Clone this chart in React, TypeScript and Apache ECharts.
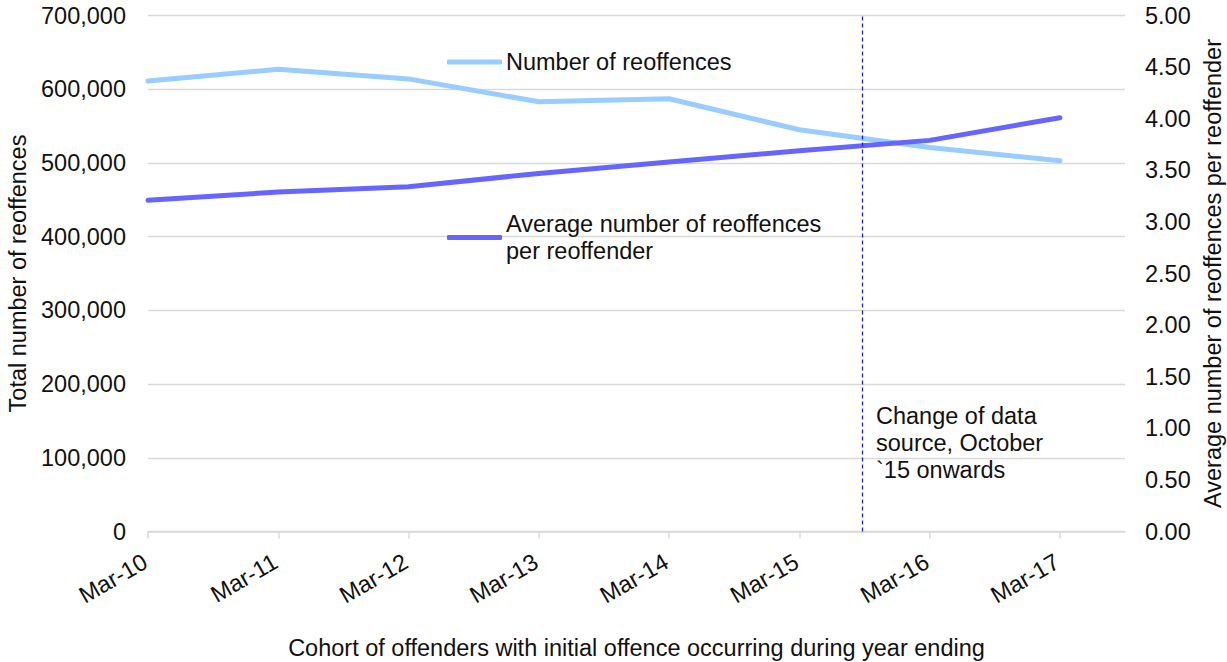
import React, { useEffect, useRef } from "react";
import * as echarts from "echarts";

// Cohort year-ending labels
const categories = ["Mar-10", "Mar-11", "Mar-12", "Mar-13", "Mar-14", "Mar-15", "Mar-16", "Mar-17"];

// Total number of reoffences (left axis)
const reoffences = [611000, 627000, 614000, 583000, 587000, 545000, 521000, 503000];

// Average number of reoffences per reoffender (right axis)
const avgPerReoffender = [3.21, 3.29, 3.34, 3.47, 3.58, 3.69, 3.79, 4.01];

// Position of the data-source change on the cohort axis (Oct '15)
const sourceChangeAt = 5.48;

const FONT = "'Liberation Sans', Arial, sans-serif";
const TEXT = "#111111";
const FS = 23.5;

export default function App() {
  const ref = useRef<HTMLDivElement>(null);

  useEffect(() => {
    if (!ref.current) return;
    const chart = echarts.init(ref.current, undefined, { renderer: "svg" });
    const idx = categories.map((_, i) => i);

    chart.setOption({
      animation: false,
      backgroundColor: "#ffffff",
      textStyle: { fontFamily: FONT, color: TEXT },
      grid: {
        left: 148,
        right: 102,
        top: 15.5,
        bottom: 130.5,
        containLabel: false,
        outerBoundsMode: "none",
      },
      legend: [
        {
          left: 447,
          top: 50,
          padding: 0,
          orient: "vertical",
          itemWidth: 55,
          itemHeight: 5,
          selectedMode: false,
          icon: "roundRect",
          data: ["Number of reoffences"],
          textStyle: { fontFamily: FONT, fontSize: FS, color: TEXT, padding: [0, 0, 0, -1] },
        },
        {
          left: 447,
          top: 197,
          padding: 0,
          orient: "vertical",
          itemWidth: 55,
          itemHeight: 5,
          selectedMode: false,
          icon: "roundRect",
          data: ["Average number of reoffences per reoffender"],
          formatter: () => "Average number of reoffences\nper reoffender",
          textStyle: {
            fontFamily: FONT,
            fontSize: FS,
            lineHeight: 27,
            color: TEXT,
            padding: [27, 0, 0, -1],
          },
        },
      ],
      xAxis: {
        type: "value",
        min: 0,
        max: 7.5,
        interval: 1,
        name: "Cohort of offenders with initial offence occurring during year ending",
        nameLocation: "middle",
        nameGap: 104.5,
        nameMoveOverlap: false,
        nameTextStyle: { fontFamily: FONT, fontSize: FS, color: TEXT },
        axisLine: { show: true, lineStyle: { color: "#d9d9d9", width: 1.5 } },
        axisTick: {
          show: true,
          length: 7,
          customValues: idx,
          lineStyle: { color: "#d9d9d9", width: 1.5 },
        },
        splitLine: { show: false },
        axisLabel: {
          customValues: idx,
          rotate: 30,
          align: "right",
          verticalAlign: "top",
          margin: 13,
          padding: [0, 10, 0, 0],
          fontFamily: FONT,
          fontSize: FS,
          color: TEXT,
          formatter: (v: number) => categories[Math.round(v)] ?? "",
        },
      },
      yAxis: [
        {
          type: "value",
          min: 0,
          max: 700000,
          interval: 100000,
          name: "Total number of reoffences",
          nameLocation: "middle",
          nameGap: 118,
          nameRotate: 90,
          nameMoveOverlap: false,
          nameTextStyle: { fontFamily: FONT, fontSize: FS, color: TEXT },
          axisLine: { show: false },
          axisTick: { show: false },
          splitLine: { show: true, lineStyle: { color: "#d9d9d9", width: 1.3 } },
          axisLabel: {
            margin: 22,
            fontFamily: FONT,
            fontSize: FS,
            color: TEXT,
            formatter: (v: number) => v.toLocaleString("en-GB"),
          },
        },
        {
          type: "value",
          min: 0,
          max: 5,
          interval: 0.5,
          position: "right",
          name: "Average number of reoffences per reoffender",
          nameLocation: "middle",
          nameGap: 76,
          nameRotate: 90,
          nameMoveOverlap: false,
          nameTextStyle: { fontFamily: FONT, fontSize: FS, color: TEXT },
          axisLine: { show: false },
          axisTick: { show: false },
          splitLine: { show: false },
          axisLabel: {
            margin: 20,
            fontFamily: FONT,
            fontSize: FS,
            color: TEXT,
            formatter: (v: number) => v.toFixed(2),
          },
        },
      ],
      series: [
        {
          name: "Number of reoffences",
          type: "line",
          yAxisIndex: 0,
          symbol: "none",
          data: reoffences.map((v, i) => [i, v]),
          lineStyle: { color: "#99ccff", width: 5, cap: "round", join: "round" },
          itemStyle: { color: "#99ccff" },
          z: 3,
          markLine: {
            silent: true,
            symbol: "none",
            label: { show: false },
            lineStyle: { color: "#1f1fe0", width: 1.3, type: [4, 3] },
            data: [{ xAxis: sourceChangeAt }],
          },
        },
        {
          name: "Average number of reoffences per reoffender",
          type: "line",
          yAxisIndex: 1,
          symbol: "none",
          data: avgPerReoffender.map((v, i) => [i, v]),
          lineStyle: { color: "#6666ff", width: 5, cap: "round", join: "round" },
          itemStyle: { color: "#6666ff" },
          z: 4,
        },
      ],
      graphic: [
        {
          type: "text",
          left: 876,
          top: 402,
          silent: true,
          style: {
            text: "Change of data\nsource, October\n`15 onwards",
            fontFamily: FONT,
            fontSize: FS,
            lineHeight: 27,
            fill: TEXT,
          },
        },
      ],
    });

    return () => chart.dispose();
  }, []);

  return (
    <div
      ref={ref}
      style={{ position: "fixed", left: 0, top: 0, width: 1227, height: 662 }}
    />
  );
}
